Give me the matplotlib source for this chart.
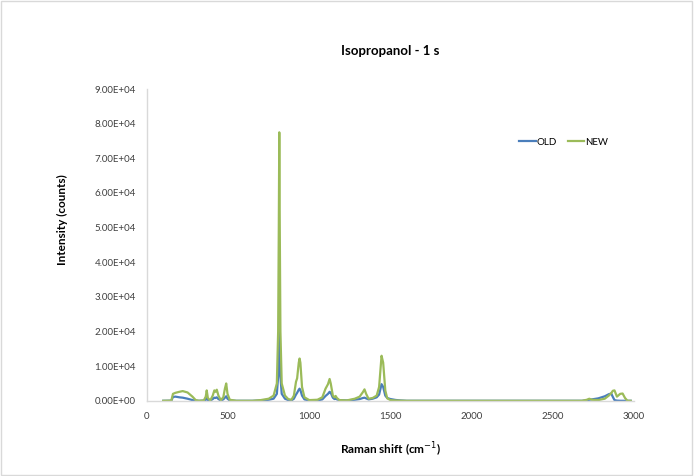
import numpy as np
import matplotlib
matplotlib.use("Agg")
import matplotlib.pyplot as plt
from matplotlib.ticker import FuncFormatter
from matplotlib.patches import Rectangle

plt.rcParams['font.family'] = ['Lato', 'DejaVu Sans']

# Raman shift (cm-1) and intensities
shift = [100, 150, 160, 175, 200, 220, 250, 280, 300, 320,
         350, 362, 368, 375, 390, 405, 415, 422, 430, 440,
         455, 470, 480, 488, 496, 510, 550, 650, 700, 750,
         780, 800, 808, 812, 815, 818, 822, 830, 850, 870,
         890, 905, 918, 925, 935, 940, 945, 955, 970, 1000,
         1050, 1080, 1100, 1115, 1125, 1132, 1145, 1155, 1162, 1170,
         1185, 1230, 1280, 1310, 1330, 1340, 1350, 1365, 1390, 1415,
         1430, 1445, 1455, 1468, 1480, 1500, 1530, 1560, 1600, 2680,
         2710, 2725, 2740, 2780, 2820, 2845, 2860, 2870, 2880, 2895,
         2915, 2930, 2945, 2960, 2980]

new = [0, 50, 2000, 2300, 2600, 2800, 2400, 1200, 200, 0,
       100, 1200, 3000, 800, 100, 1500, 3000, 2600, 3200, 1500,
       200, 1000, 3500, 5000, 2000, 300, 0, 0, 200, 600,
       1500, 5000, 20000, 50000, 77500, 50000, 20000, 5000, 1500, 500,
       300, 1500, 5500, 6500, 11000, 12200, 11000, 4000, 1000, 200,
       300, 1000, 3500, 4800, 6300, 5000, 1500, 1000, 1400, 800,
       200, 100, 600, 1200, 2500, 3300, 2000, 600, 800, 1500,
       4000, 13000, 11000, 3000, 700, 200, 100, 50, 0, 0,
       300, 600, 300, 200, 600, 1500, 2200, 2900, 3000, 1200,
       2000, 2100, 800, 0, 0]

old = [0, 30, 1100, 1200, 1000, 900, 600, 200, 50, 0,
       50, 300, 800, 200, 50, 500, 900, 800, 1000, 500,
       100, 400, 900, 1300, 600, 100, 0, 0, 100, 300,
       600, 2000, 7000, 15000, 21500, 15000, 7000, 2000, 600, 200,
       100, 600, 1800, 2300, 3200, 3500, 3100, 1500, 400, 100,
       100, 400, 1400, 2000, 2600, 2300, 900, 500, 700, 400,
       200, 100, 300, 500, 800, 900, 700, 400, 600, 1000,
       1800, 4800, 4000, 1500, 800, 500, 250, 100, 0, 0,
       150, 300, 400, 700, 1300, 1900, 2100, 1100, 200, 50,
       0, 0, 0, 0, 0]

xticks = [0, 500, 1000, 1500, 2000, 2500, 3000]
yticks = [0, 10000, 20000, 30000, 40000, 50000, 60000, 70000, 80000, 90000]

fig = plt.figure(figsize=(6.94, 4.76), dpi=100)
ax = fig.add_axes([0.2118, 0.158, 0.7017, 0.655])

ax.plot(shift, old, color='#4A7EBB', lw=1.6, label='OLD')
ax.plot(shift, new, color='#9BBB59', lw=1.6, label='NEW')

ax.set_xlim(0, 3000)
ax.set_ylim(0, 90000)
ax.set_xticks(xticks)
ax.set_yticks(yticks)

def sci(v, pos):
    return "%.2E" % v

ax.yaxis.set_major_formatter(FuncFormatter(sci))
ax.tick_params(length=0, labelsize=7, colors='#404040', pad=8)

for s in ['top', 'right']:
    ax.spines[s].set_visible(False)
for s in ['left', 'bottom']:
    ax.spines[s].set_color('#D9D9D9')
    ax.spines[s].set_linewidth(1)

ax.set_title('Isopropanol - 1 s', fontsize=9.5, fontweight='bold', pad=0, y=1.11)
ax.set_xlabel('Raman shift (cm$^{-1}$)', fontsize=8.5, fontweight='bold')
ax.xaxis.set_label_coords(0.5, -0.128)
fig.text(62 / 694, 1 - 220 / 476, 'Intensity (counts)', rotation=90, ha='center', va='center',
         fontsize=8.5, fontweight='bold')

ax.legend(loc='center right', bbox_to_anchor=(0.957, 0.83), ncol=2, frameon=False, borderpad=0,
          fontsize=7, handlelength=1.7, handletextpad=0.1, columnspacing=1.1)

fig.patches.append(Rectangle((0.002, 0.003), 0.995, 0.994, transform=fig.transFigure,
                             fill=False, edgecolor='#D9D9D9', lw=1))

fig.savefig('out.png', dpi=100)
